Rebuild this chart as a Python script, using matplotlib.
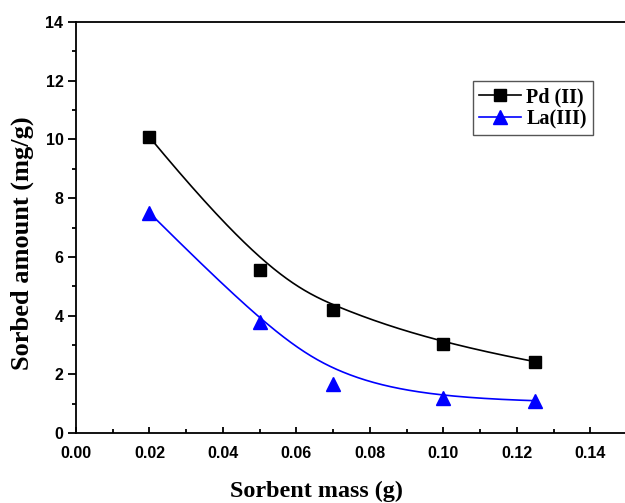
import numpy as np
import matplotlib
matplotlib.use("Agg")
import matplotlib.pyplot as plt
from matplotlib.ticker import MultipleLocator

# Sorbent mass (g)
mass = [0.02, 0.05, 0.07, 0.10, 0.125]
# Sorbed amount (mg/g)
pd_sorbed = [10.08, 5.55, 4.2, 3.03, 2.43]
la_sorbed = [7.5, 3.78, 1.68, 1.2, 1.1]

series_names = ["Pd (II)", "La(III)"]


def bspline(xs, ys, degree=3, n=300):
    """Clamped B-spline using the data points as control points."""
    pts = np.column_stack([xs, ys])
    m = len(pts)
    k = degree
    inner = np.linspace(0, 1, m - k + 1)
    knots = np.concatenate([[0] * k, inner, [1] * k])
    t = np.linspace(0, 1, n)
    t[-1] = 1 - 1e-12

    def basis(i, p, tt):
        if p == 0:
            return np.where((knots[i] <= tt) & (tt < knots[i + 1]), 1.0, 0.0)
        left = 0.0
        right = 0.0
        d1 = knots[i + p] - knots[i]
        d2 = knots[i + p + 1] - knots[i + 1]
        if d1 > 0:
            left = (tt - knots[i]) / d1 * basis(i, p - 1, tt)
        if d2 > 0:
            right = (knots[i + p + 1] - tt) / d2 * basis(i + 1, p - 1, tt)
        return left + right

    B = np.array([basis(i, k, t) for i in range(m)])
    curve = B.T @ pts
    return curve[:, 0], curve[:, 1]


W, H = 625, 503
fig = plt.figure(figsize=(W / 100, H / 100), dpi=100)
ax = fig.add_axes([76 / W, 1 - 433 / H, 551 / W, 411 / H])

serif = "Liberation Serif"
sans = "Liberation Sans"

for ys, color, marker, ms, name in [
    (pd_sorbed, "black", "s", 8.5, series_names[0]),
    (la_sorbed, "#0000ff", "^", 10.5, series_names[1]),
]:
    cx, cy = bspline(mass, ys)
    ax.plot(cx, cy, color=color, lw=1.2, zorder=2)
    ax.plot(mass, ys, linestyle="none", marker=marker, ms=ms, color=color,
            markeredgecolor=color, zorder=3)
    ax.plot([], [], color=color, lw=1.2, marker=marker, ms=ms, label=name)

ax.set_xlim(0, 0.15)
ax.set_ylim(0, 14)
ax.xaxis.set_major_locator(MultipleLocator(0.02))
ax.xaxis.set_minor_locator(MultipleLocator(0.01))
ax.yaxis.set_major_locator(MultipleLocator(2))
ax.yaxis.set_minor_locator(MultipleLocator(1))

ax.tick_params(axis="x", which="both", direction="in", top=False, width=1.3)
ax.tick_params(axis="x", which="major", length=4)
ax.tick_params(axis="x", which="minor", length=3)
ax.tick_params(axis="y", which="both", direction="out", right=False, width=1.3)
ax.tick_params(axis="y", which="major", length=6)
ax.tick_params(axis="y", which="minor", length=3)

ax.set_xticks(ax.get_xticks())
ax.set_xticklabels([f"{v:.2f}" for v in ax.get_xticks()])
for lbl in ax.get_xticklabels() + ax.get_yticklabels():
    lbl.set_fontfamily(sans)
    lbl.set_fontweight("bold")
    lbl.set_fontsize(11.5)
ax.set_xlim(0, 0.15)
ax.tick_params(axis="x", pad=9)
ax.tick_params(axis="y", pad=3)

for s in ["left", "bottom", "top", "right"]:
    ax.spines[s].set_linewidth(1.3)

fig.text(316 / W, 1 - 491 / H, "Sorbent mass (g)", fontfamily=serif,
         fontweight="bold", fontsize=17.4, ha="center", va="center")
fig.text(22 / W, 1 - 243 / H, "Sorbed amount (mg/g)", fontfamily=serif,
         fontweight="bold", fontsize=19, ha="center", va="center", rotation=90)

leg = ax.legend(loc="upper left", bbox_to_anchor=((473 - 76) / 551, (433 - 81) / 411),
                prop={"family": serif, "weight": "bold", "size": 14.5},
                fancybox=False, framealpha=1, edgecolor="#555555",
                handlelength=2.1, handletextpad=0.25, borderpad=0.3,
                labelspacing=0.1, borderaxespad=0, markerscale=0.95)
leg.get_frame().set_linewidth(1.0)

fig.savefig("out.png", dpi=100)
